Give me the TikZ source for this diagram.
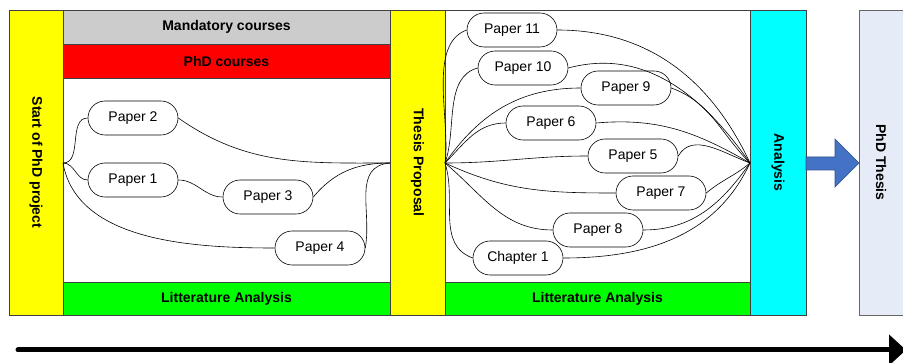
\documentclass[tikz,border=0pt]{standalone}
\usepackage{fontspec}
\setmainfont{Liberation Sans}
\usetikzlibrary{arrows.meta,shapes.misc}
\definecolor{barYellow}{HTML}{FFFF00}
\definecolor{courseGray}{HTML}{CCCCCC}
\definecolor{courseRed}{HTML}{FF0000}
\definecolor{litGreen}{HTML}{00FF00}
\definecolor{anaCyan}{HTML}{00FFFF}
\definecolor{thesisFill}{HTML}{E6ECF7}
\definecolor{arrowBlue}{HTML}{4472C4}
\definecolor{arrowEdge}{HTML}{2F528F}
\begin{document}
\begin{tikzpicture}[x=1pt,y=-1pt,
  band/.style={draw=black!75,line width=0.7pt,inner sep=0pt,
    font=\bfseries\fontsize{14}{16}\selectfont},
  paper/.style={draw=black,line width=0.6pt,rounded rectangle,minimum width=90pt,
    minimum height=34pt,inner sep=0pt,fill=white,font=\fontsize{14}{16}\selectfont},
  link/.style={draw=black,line width=0.6pt},
  vlabel/.style={rotate=-90,font=\bfseries\fontsize{14}{16}\selectfont}]
\useasboundingbox (0,0) rectangle (903,363);
\clip (0,0) rectangle (903,363);

% phase columns and activity bands
\node[band,fill=barYellow,minimum width=54pt,minimum height=305pt] (start) at (36,162.5) {};
\node[vlabel] (startlbl) at (36,162.5) {Start of PhD project};
\node[band,fill=courseGray,minimum width=327pt,minimum height=34pt] (mand) at (226.5,27) {Mandatory courses};
\node[band,fill=courseRed,minimum width=327pt,minimum height=34pt] (phdc) at (226.5,61) {PhD courses};
\node[band,fill=white,minimum width=327pt,minimum height=204pt] (area1) at (226.5,180) {};
\node[band,fill=litGreen,minimum width=327pt,minimum height=33pt] (lit1) at (226.5,298.5) {Litterature Analysis};
\node[band,fill=barYellow,minimum width=55pt,minimum height=305pt] (prop) at (417.5,162.5) {};
\node[vlabel] (proplbl) at (417.5,162.5) {Thesis Proposal};
\node[band,fill=white,minimum width=305pt,minimum height=272pt] (area2) at (597.5,146) {};
\node[band,fill=litGreen,minimum width=305pt,minimum height=33pt] (lit2) at (597.5,298.5) {Litterature Analysis};
\node[band,fill=anaCyan,minimum width=56pt,minimum height=305pt] (ana) at (778,162.5) {};
\node[vlabel] (analbl) at (778,162.5) {Analysis};
\draw[draw=black!60,line width=0.7pt,fill=thesisFill] (859,10) rectangle (930,315);
\node[vlabel] (thesis) at (881,162.5) {PhD Thesis};

% block arrow into the thesis
\draw[fill=arrowBlue,draw=arrowEdge,line width=0.6pt]
  (806,157) -- (835,157) -- (835,139) -- (859,163) -- (835,187) -- (835,170) -- (806,170) -- cycle;

% time line
\coordinate (t0) at (18,350);
\coordinate (t1) at (906,350);
\draw[line width=5pt,line cap=round,-{Triangle[length=17pt,width=30pt]}] (t0) -- (t1);

% hubs where the links meet
\coordinate (L) at (63,163);
\coordinate (T) at (390,163);
\coordinate (R) at (445,163);
\coordinate (A) at (750,163);

% first phase papers
\node[paper] (p2) at (133,118) {Paper 2};
\node[paper] (p1) at (133,180) {Paper 1};
\node[paper] (p3) at (268,197) {Paper 3};
\node[paper] (p4) at (320,248) {Paper 4};

% second phase papers
\node[paper] (p11) at (512,30) {Paper 11};
\node[paper] (p10) at (523,68) {Paper 10};
\node[paper] (p9) at (626,88) {Paper 9};
\node[paper] (p6) at (551,123) {Paper 6};
\node[paper] (p5) at (633,156) {Paper 5};
\node[paper] (p7) at (661,193) {Paper 7};
\node[paper] (p8) at (598,230) {Paper 8};
\node[paper] (ch1) at (518,258) {Chapter 1};

% links of the first phase
\path[link] (L) to[out=0,in=180] (p2.west);
\path[link] (L) to[out=0,in=180] (p1.west);
\path[link] (L) to[out=-80,in=180,looseness=0.9] (p4.west);
\path[link] (p2.east) to[out=-35,in=180] (T);
\path[link] (p1.east) to[out=0,in=180] (p3.west);
\path[link] (p3.east) to[out=50,in=180] (T);
\path[link] (p4.east) to[out=80,in=185,looseness=1.1] (T);

% links of the second phase
\path[link] (R) to[out=82,in=200,looseness=0.8] (p11.west);
\path[link] (R) to[out=70,in=195,looseness=0.9] (p10.west);
\path[link] (R) to[out=55,in=180] (p9.west);
\path[link] (R) to[out=45,in=180] (p6.west);
\path[link] (R) to[out=0,in=180] (p5.west);
\path[link] (R) to[out=-25,in=180] (p7.west);
\path[link] (R) to[out=-40,in=180] (p8.west);
\path[link] (R) to[out=-72,in=160] (ch1.west);

\path[link] (p11.east) to[out=0,in=115] (A);
\path[link] (p10.east) to[out=15,in=125] (A);
\path[link] (p9.east) to[out=-20,in=135] (A);
\path[link] (p6.east) to[out=5,in=150] (A);
\path[link] (p5.east) to[out=60,in=160] (A);
\path[link] (p7.east) to[out=40,in=-140] (A);
\path[link] (p8.east) to[out=0,in=-125] (A);
\path[link] (ch1.east) to[out=0,in=-115] (A);
\end{tikzpicture}
\end{document}
